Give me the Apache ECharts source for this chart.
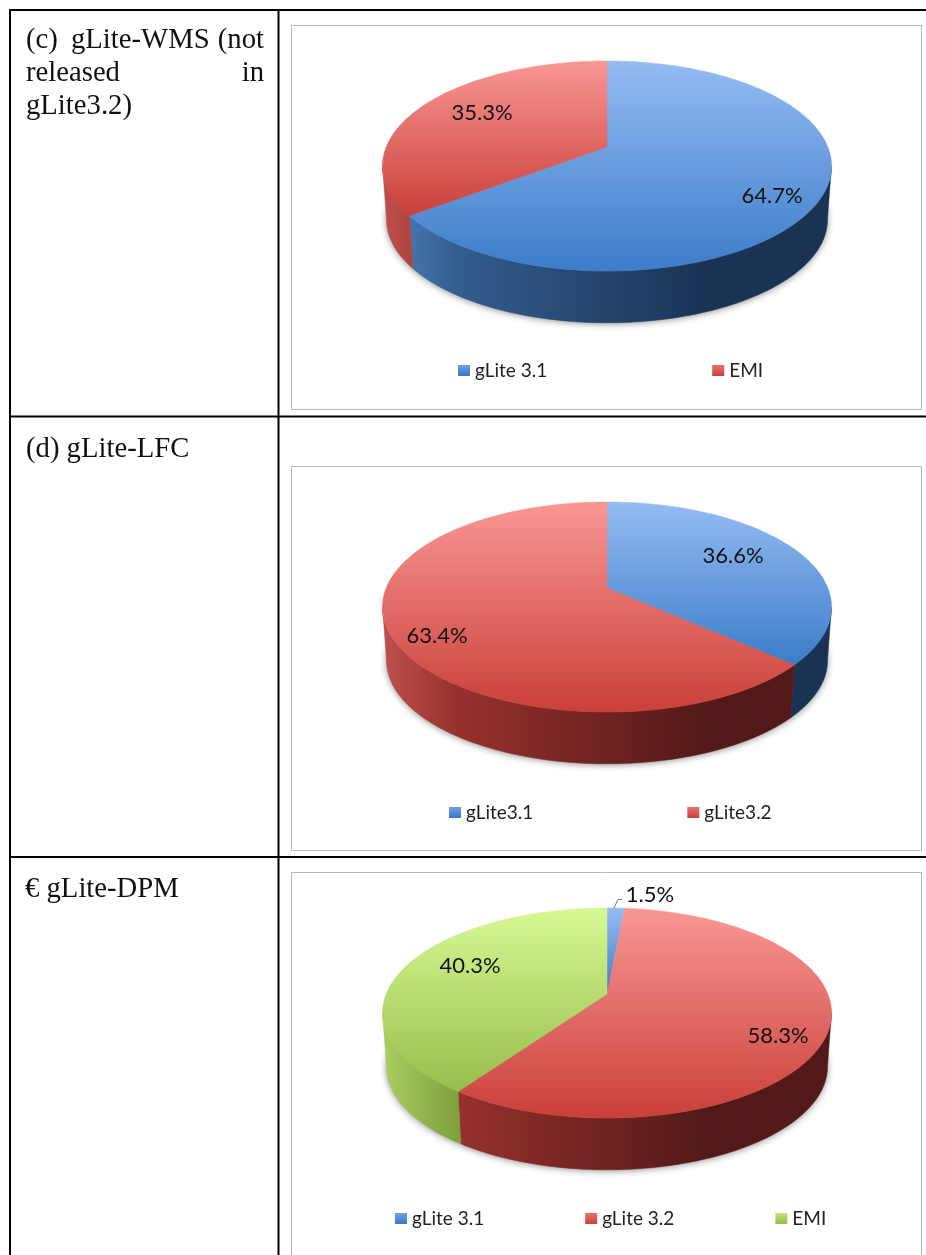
<!DOCTYPE html>
<html>
<head>
<meta charset="utf-8">
<style>html,body{margin:0;padding:0;background:#fff}#c{width:926px;height:1255px}</style>
<script src="https://cdn.jsdelivr.net/npm/echarts@6/dist/echarts.min.js"></script>
</head>
<body>
<div id="c"></div>
<script>
// ---- data ----
var wmsNames = ['gLite 3.1', 'EMI'];
var wmsValues = [64.7, 35.3];
var lfcNames = ['gLite3.1', 'gLite3.2'];
var lfcValues = [36.6, 63.4];
var dpmNames = ['gLite 3.1', 'gLite 3.2', 'EMI'];
var dpmValues = [1.5, 58.3, 40.3];

// ---- layout and styles ----
var PALETTE = {
  blue:  {top: ['#95bcf3', '#3c7cc9'], side: ['#4f81bd', '#335c8e', '#1a3355'], key: ['#6ea2ea', '#3a76c6']},
  red:   {top: ['#f99795', '#ca3f39'], side: ['#c0504d', '#96302c', '#531918'], key: ['#ea706c', '#c93f3a']},
  green: {top: ['#d8f894', '#97bf4c'], side: ['#abcf60', '#7f9f3e', '#5f7c2c'], key: ['#c2e678', '#94bd4a']}
};
var pies = [
  {names: wmsNames, values: wmsValues, colors: ['blue', 'red'], apexY: 147,
   labels: [[165, 49], [-125, -34]], legendLeft: 458, legendTop: 361, legendGap: 165},
  {names: lfcNames, values: lfcValues, colors: ['blue', 'red'], apexY: 588,
   labels: [[126, -32], [-170, 48]], legendLeft: 449, legendTop: 803, legendGap: 154},
  {names: dpmNames, values: dpmValues, colors: ['blue', 'red', 'green'], apexY: 994,
   labels: [[43, -99], [171, 42], [-137, -28]], legendLeft: 395, legendTop: 1209, legendGap: 101}
];
var CX = 607, A = 220.8, B = 101.6, P = 0.181, DEPTH = 54, BASE = 0.982;
var FRONT_FROM = 100.4, FRONT_TO = 259.6;
var LABEL_FONT = 'Lato, "Open Sans", sans-serif';

function project(apexY, deg) {
  var t = deg * Math.PI / 180, u = Math.sin(t), v = Math.cos(t), w = 1 + P * v;
  return [CX + A * u / w, apexY - B * v / w];
}
function lower(apexY, deg) {
  var p = project(apexY, deg);
  return [CX + (p[0] - CX) * BASE, apexY + (p[1] - apexY) * BASE + DEPTH];
}
function arc(fn, apexY, from, to) {
  var pts = [], n = Math.max(2, Math.ceil((to - from) / 1.5));
  for (var i = 0; i <= n; i++) pts.push(fn(apexY, from + (to - from) * i / n));
  return pts;
}
function vGrad(c) { return new echarts.graphic.LinearGradient(0, 0, 0, 1, [{offset: 0, color: c[0]}, {offset: 1, color: c[1]}]); }
function sideGrad(c) {
  return new echarts.graphic.LinearGradient(382, 0, 831, 0, [
    {offset: 0, color: c[0]}, {offset: 0.17, color: c[1]}, {offset: 0.72, color: c[2]}, {offset: 1, color: c[2]}], true);
}

function shadowSeries(pie, idx) {
  return {
    type: 'custom', name: '__shadow' + idx, coordinateSystem: 'none', silent: true, animation: false, z: 1,
    data: [[0]],
    renderItem: function () {
      return {type: 'polygon', shape: {points: arc(lower, pie.apexY, 0, 360)},
        style: {fill: '#aaaaaa', shadowBlur: 7, shadowColor: 'rgba(0,0,0,0.45)', shadowOffsetY: 1}};
    }
  };
}
function sliceSeries(pie, i, startDeg, sweepDeg) {
  var pal = PALETTE[pie.colors[i]];
  return {
    type: 'custom', name: pie.names[i], coordinateSystem: 'none', silent: true, animation: false, z: 2,
    data: [[pie.values[i]]],
    renderItem: function () {
      var children = [], endDeg = startDeg + sweepDeg;
      var a = Math.max(startDeg, FRONT_FROM), b = Math.min(endDeg, FRONT_TO);
      if (b > a) {
        var side = arc(project, pie.apexY, a, b).concat(arc(lower, pie.apexY, a, b).reverse());
        var sf = sideGrad(pal.side);
        children.push({type: 'polygon', shape: {points: side}, style: {fill: sf, stroke: sf, lineWidth: 0.5}});
      }
      var tf = vGrad(pal.top);
      children.push({type: 'polygon', shape: {points: [[CX, pie.apexY]].concat(arc(project, pie.apexY, startDeg, endDeg))},
        style: {fill: tf, stroke: tf, lineWidth: 0.5}});
      var off = pie.labels[i];
      children.push({type: 'text', z2: 10, style: {
        text: pie.values[i].toFixed(1) + '%', x: CX + off[0], y: pie.apexY + off[1],
        align: 'center', verticalAlign: 'middle', fill: '#111', font: '22px ' + LABEL_FONT}});
      return {type: 'group', children: children};
    }
  };
}

var series = [], legends = [];
pies.forEach(function (pie, idx) {
  series.push(shadowSeries(pie, idx));
  var total = pie.values.reduce(function (s, v) { return s + v; }, 0), acc = 0;
  pie.values.forEach(function (v, i) {
    var sweep = v / total * 360;
    series.push(sliceSeries(pie, i, acc, sweep));
    acc += sweep;
  });
  legends.push({
    left: pie.legendLeft, top: pie.legendTop, orient: 'horizontal', padding: 0,
    itemGap: pie.legendGap, itemWidth: 12, itemHeight: 11, selectedMode: false,
    textStyle: {fontFamily: LABEL_FONT, fontSize: 19, color: '#222'},
    data: pie.names.map(function (n, i) {
      return {name: n, icon: 'rect', itemStyle: {color: vGrad(PALETTE[pie.colors[i]].key), borderWidth: 0}};
    })
  });
});

// ---- table frame, cell text and chart panels ----
function rule(x1, y1, x2, y2) {
  return {type: 'line', shape: {x1: x1, y1: y1, x2: x2, y2: y2}, style: {stroke: '#000', lineWidth: 2}, silent: true, z: 5};
}
function panel(x, y, w, h) {
  return {type: 'rect', shape: {x: x, y: y, width: w, height: h}, style: {fill: '#fff', stroke: '#b8b8b8', lineWidth: 1}, silent: true, z: -5};
}
function cellText(t, x, y, align) {
  return {type: 'text', silent: true, z: 5, style: {text: t, x: x, y: y, fill: '#111', textAlign: align || 'left', textVerticalAlign: 'middle', font: '28.7px "Liberation Serif", serif'}};
}
var graphics = [
  panel(291.5, 25.5, 630, 384), panel(291.5, 466.5, 630, 384), panel(291.5, 872.5, 630, 400),
  rule(9, 10, 926, 10), rule(9, 416.5, 926, 416.5), rule(9, 857, 926, 857),
  rule(10, 9, 10, 1255), rule(278.5, 9, 278.5, 1255),
  cellText('(c)', 26, 40), cellText('gLite-WMS', 71, 40), cellText('(not', 264, 40, 'right'),
  cellText('released', 26, 73), cellText('in', 264, 73, 'right'),
  cellText('gLite3.2)', 26, 106),
  cellText('(d) gLite-LFC', 26, 449),
  cellText('\u20AC gLite-DPM', 25, 889),
  {type: 'polyline', silent: true, z: 5, shape: {points: [[614, 908], [618, 899.5], [622, 899.5]]},
   style: {fill: 'none', stroke: '#777', lineWidth: 1}}
];

var chart = echarts.init(document.getElementById('c'), null, {renderer: 'canvas', width: 926, height: 1255});
chart.setOption({
  animation: false,
  backgroundColor: '#fff',
  legend: legends,
  graphic: graphics,
  series: series
});
</script>
</body>
</html>
